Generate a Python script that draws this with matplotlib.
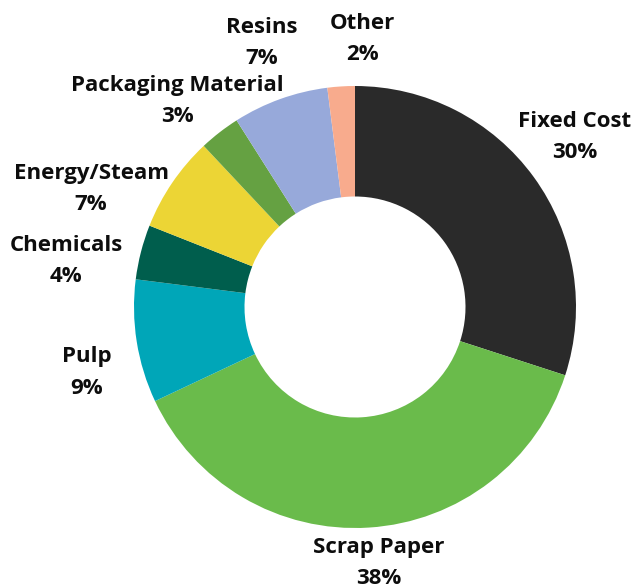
import matplotlib.pyplot as plt

# cost breakdown, clockwise from 12 o'clock
categories = ['Fixed Cost', 'Scrap Paper', 'Pulp', 'Chemicals', 'Energy/Steam',
              'Packaging Material', 'Resins', 'Other']
shares = [30, 38, 9, 4, 7, 3, 7, 2]
colors = ['#2a2a2a', '#6abb4b', '#00a6b8', '#005e4d', '#ecd535',
          '#65a142', '#97a9da', '#f8ab8d']

# label anchors: x centre and baseline of the name line (pixels, y from top)
label_x = [575, 379, 87, 66, 91, 177, 262, 362]
label_base = [127, 553, 362, 251, 179, 91, 33, 29]
line_gap = 31.5

W, H = 632, 588
fig = plt.figure(figsize=(W / 100, H / 100), dpi=100)
ax = fig.add_axes([0, 0, 1, 1])

cx, cy, r = 355, H - 307, 221
ax.pie(shares, colors=colors, startangle=90, counterclock=False,
       center=(cx, cy), radius=r, frame=True,
       wedgeprops=dict(width=r * 0.5, linewidth=0))
ax.set_xlim(0, W)
ax.set_ylim(0, H)
ax.axis('off')

style = dict(ha='center', va='baseline', fontsize=16, fontweight='bold',
             family='Open Sans', color='#0d0d0d')
for name, val, x, b in zip(categories, shares, label_x, label_base):
    ax.text(x, H - b, name, **style)
    ax.text(x, H - b - line_gap, f'{val}%', **style)

fig.savefig('out.png', dpi=100)
